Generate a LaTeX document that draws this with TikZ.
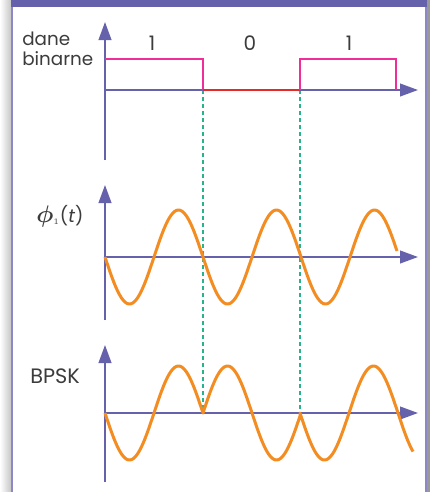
\documentclass[tikz,border=0pt]{standalone}
\usepackage{amsmath,amssymb,bm}
\usepackage{fontspec}
\setmainfont{Poppins}
\usepackage{tikz}
\usetikzlibrary{arrows.meta}
\definecolor{axisc}{HTML}{6561AB}
\definecolor{framec}{HTML}{8C88C6}
\definecolor{datac}{HTML}{F02E9A}
\definecolor{zeroc}{HTML}{E62A2A}
\definecolor{wavec}{HTML}{F38D22}
\definecolor{bitc}{HTML}{27B38C}
\definecolor{textc}{HTML}{3C3C3C}

\begin{document}
\begin{tikzpicture}[x=0.6pt, y=-0.6pt,
    axisl/.style={draw=axisc, line width=1.2pt, -{Triangle[length=10.8pt, width=7.6pt]}},
    bitl/.style={draw=bitc, line width=0.9pt, dash pattern=on 2.4pt off 1.8pt},
    wavel/.style={draw=wavec, line width=1.8pt, line join=round},
    lbl/.style={text=textc, inner sep=0pt}]
  \useasboundingbox (0,0) rectangle (430,492);
  % frame
  \shade[left color=white, right color=black!22] (0,0) rectangle (11,492);
  \fill[black!40] (427,0) rectangle (430,492);
  \fill[white] (12,7) rectangle (426,492);
  \draw[framec, line width=0.9pt] (12,0) -- (12,492);
  \draw[framec, line width=0.9pt] (426,0) -- (426,492);
  \fill[axisc] (11,0) rectangle (427,7);
  % bit boundaries
  \draw[bitl] (203,90) -- (203,413);
  \draw[bitl] (300,90) -- (300,413);
  % axes
  \draw[axisl] (105,160) -- (105,22);
  \draw[axisl] (105,90) -- (418,90);
  \draw[axisl] (105,320) -- (105,185);
  \draw[axisl] (105,257) -- (418,257);
  \draw[axisl] (105,482) -- (105,345);
  \draw[axisl] (105,413) -- (418,413);
  % binary data
  \draw[datac, line width=0.9pt] (105,59) -- (203,59) -- (203,90);
  \draw[zeroc, line width=1.2pt] (203,90) -- (300,90);
  \draw[datac, line width=0.9pt] (300,90) -- (300,59) -- (396,59) -- (396,90);
  \node[lbl, anchor=base, font=\fontsize{12}{14}\selectfont] (bitone) at (152,50) {1};
  \node[lbl, anchor=base, font=\fontsize{12}{14}\selectfont] (bitzero) at (250,50) {0};
  \node[lbl, anchor=base, font=\fontsize{12}{14}\selectfont] (bitthree) at (349,50) {1};
  \node[lbl, anchor=base west, font=\fontsize{11}{13}\selectfont] (lbldane) at (22,45) {dane};
  \node[lbl, anchor=base west, font=\fontsize{11}{13}\selectfont] (lblbin) at (22,65) {binarne};
  % carrier
  \draw[wavel] plot[domain=105:397, samples=160] (\x, {257+47*sin(3.67347*(\x-105))});
  \node[lbl, anchor=base west, font=\fontsize{11}{13}\selectfont] (lblphi) at (36,222)
    {{\fontsize{15}{17}\selectfont$\bm{\phi}$}$_{\scriptscriptstyle 1}$(\textit{t})};
  % modulated signal
  \draw[wavel] plot[domain=105:203, samples=60] (\x, {413+47*sin(3.67347*(\x-105))})
    -- plot[domain=203:300, samples=60] (\x, {413-47*sin(3.67347*(\x-203))})
    -- plot[domain=300:413, samples=70] (\x, {413+47*sin(3.67347*(\x-300))});
  \node[lbl, anchor=base west, font=\fontsize{12.5}{14}\selectfont] (lblbpsk) at (30,383) {BPSK};
\end{tikzpicture}
\end{document}
